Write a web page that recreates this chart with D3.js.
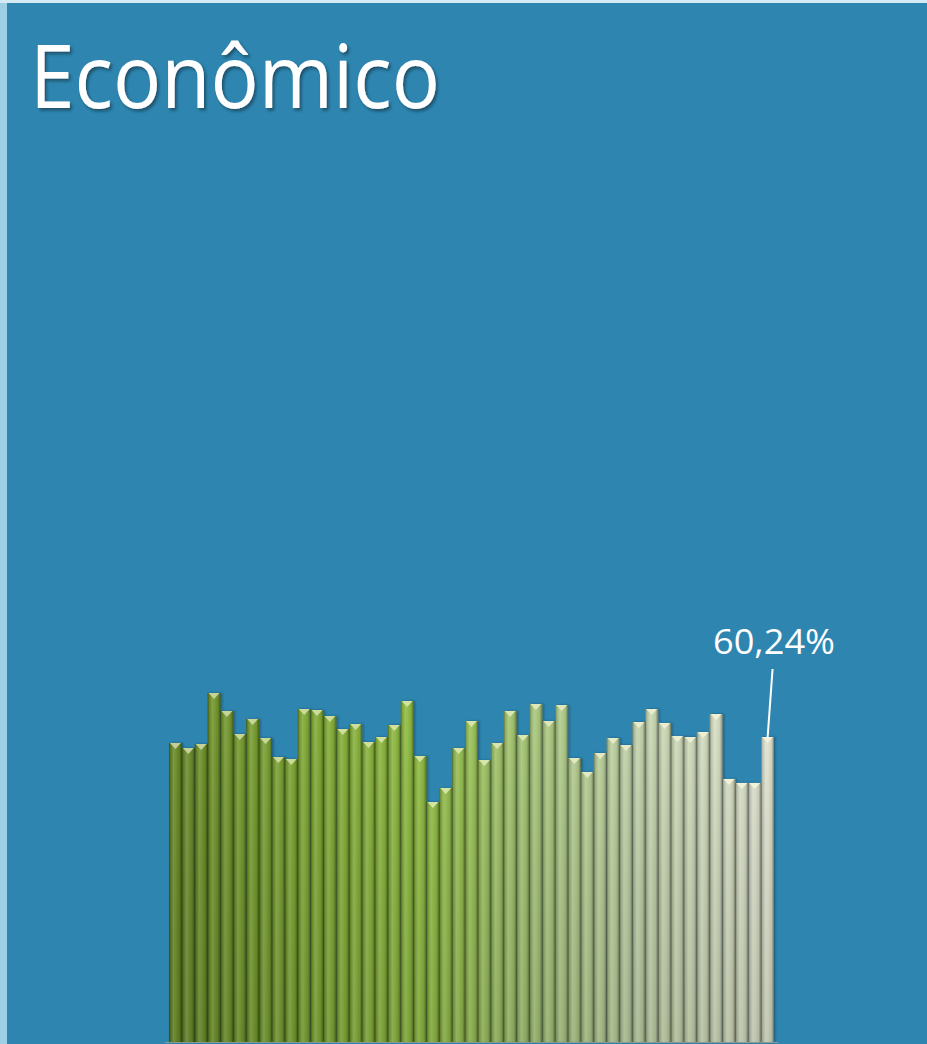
<!DOCTYPE html>
<html>
<head>
<meta charset="utf-8">
<script src="https://d3js.org/d3.v7.min.js"></script>
<style>
body { margin: 0; background: #2e86b0; }
svg { display: block; }
</style>
</head>
<body>
<svg id="chart" width="927" height="1044"></svg>
<script>

// approval values, one per bar
var values = [59.06, 58.07, 58.86, 68.93, 65.38, 60.83, 63.80, 60.04, 56.29, 55.90,
  65.77, 65.57, 64.39, 61.82, 62.81, 59.25, 60.24, 62.61, 67.35, 56.49,
  47.40, 50.17, 58.07, 63.40, 55.70, 59.06, 65.38, 60.64, 66.76, 63.40,
  66.56, 56.09, 53.33, 57.08, 60.04, 58.66, 63.20, 65.77, 63.01, 60.44,
  60.24, 61.23, 64.78, 51.95, 51.16, 51.16, 60.24];
var title = "Econômico";
var lastLabel = "60,24%";

var svg = d3.select("#chart"),
    width = +svg.attr("width"),
    height = +svg.attr("height");

var defs = svg.append("defs");

// background, with the light strips on the left and top
svg.append("rect").attr("width", width).attr("height", height).attr("fill", "#2e86b0");
svg.append("rect").attr("width", 7).attr("height", height).attr("fill", "#9fcfe5");
svg.append("rect").attr("width", width).attr("height", 3).attr("fill", "#d6eaf4");

var shadow = defs.append("filter").attr("id", "shadow")
  .attr("x", "-10%").attr("y", "-10%").attr("width", "130%").attr("height", "130%");
shadow.append("feDropShadow").attr("dx", 2).attr("dy", 2.5)
  .attr("stdDeviation", 1.5).attr("flood-color", "#0a2a3a").attr("flood-opacity", 0.6);

var barShadow = defs.append("filter").attr("id", "barShadow")
  .attr("x", "-30%").attr("y", "-5%").attr("width", "160%").attr("height", "110%");
barShadow.append("feDropShadow").attr("dx", 1.5).attr("dy", 0)
  .attr("stdDeviation", 1.2).attr("flood-color", "#0d3348").attr("flood-opacity", 0.5);

// cylinder shading across each bar
var cyl = defs.append("linearGradient").attr("id", "cyl")
  .attr("x1", 0).attr("x2", 1).attr("y1", 0).attr("y2", 0);
[[0, "#000", 0.45], [0.12, "#000", 0.12], [0.35, "#fff", 0.14], [0.55, "#fff", 0.06],
 [0.8, "#000", 0.06], [0.93, "#000", 0.28], [1, "#000", 0.5]].forEach(function(s) {
  cyl.append("stop").attr("offset", s[0]).attr("stop-color", s[1]).attr("stop-opacity", s[2]);
});

// darker toward the bottom
var fade = defs.append("linearGradient").attr("id", "fade")
  .attr("gradientUnits", "userSpaceOnUse")
  .attr("x1", 0).attr("x2", 0).attr("y1", 690).attr("y2", 1044);
fade.append("stop").attr("offset", 0).attr("stop-color", "#000").attr("stop-opacity", 0);
fade.append("stop").attr("offset", 1).attr("stop-color", "#1a2a05").attr("stop-opacity", 0.18);

var x = d3.scaleBand().domain(d3.range(values.length)).range([169, 774]).padding(0);
var y = d3.scaleLinear().domain([0, 100]).range([1042, 535.7]);

var color = d3.scaleLinear()
  .domain([0, 10, 20, 28, 36, 46])
  .range(["#6a8c28", "#80aa34", "#93c044", "#a9c87c", "#c6d6ae", "#e2e6d2"])
  .interpolate(d3.interpolateRgb);

var bars = svg.append("g");

bars.selectAll("rect.base")
  .data(values)
  .enter().append("rect")
    .attr("class", "base")
    .attr("x", function(d, i) { return x(i); })
    .attr("y", function(d) { return y(d); })
    .attr("width", x.bandwidth())
    .attr("height", function(d) { return y(0) - y(d); })
    .attr("fill", function(d, i) { return color(i); })
    .attr("filter", "url(#barShadow)");

bars.selectAll("rect.fade")
  .data(values)
  .enter().append("rect")
    .attr("class", "fade")
    .attr("x", function(d, i) { return x(i); })
    .attr("y", function(d) { return y(d); })
    .attr("width", x.bandwidth())
    .attr("height", function(d) { return y(0) - y(d); })
    .attr("fill", "url(#fade)");

bars.selectAll("rect.cyl")
  .data(values)
  .enter().append("rect")
    .attr("class", "cyl")
    .attr("x", function(d, i) { return x(i); })
    .attr("y", function(d) { return y(d); })
    .attr("width", x.bandwidth())
    .attr("height", function(d) { return y(0) - y(d); })
    .attr("fill", "url(#cyl)");

// bevelled cap on top of every bar
var bw = x.bandwidth();
bars.selectAll("path.cap")
  .data(values)
  .enter().append("path")
    .attr("class", "cap")
    .attr("d", function(d, i) {
      var x0 = x(i) + 1, x1 = x(i) + bw - 1, t = y(d);
      return "M" + x0 + "," + t + "L" + x1 + "," + t + "L" + (x0 + x1) / 2 + "," + (t + 6) + "Z";
    })
    .attr("fill", function(d, i) { return d3.interpolateRgb(color(i), "#fffbe0")(0.6); });

// axis line at the bottom
svg.append("line")
  .attr("x1", 165).attr("x2", 778)
  .attr("y1", 1042.5).attr("y2", 1042.5)
  .attr("stroke", "#8a9a90").attr("stroke-width", 1);

// title
svg.append("text")
  .attr("x", 30).attr("y", 108)
  .attr("font-family", "'Open Sans', sans-serif")
  .attr("font-size", 88)
  .attr("fill", "white")
  .attr("textLength", 410)
  .attr("lengthAdjust", "spacingAndGlyphs")
  .attr("filter", "url(#shadow)")
  .text(title);

// label on the last bar with its leader line
var li = values.length - 1;
var lx = x(li) + bw / 2;
svg.append("line")
  .attr("x1", lx + 5).attr("y1", 669)
  .attr("x2", lx).attr("y2", y(values[li]) + 1)
  .attr("stroke", "white").attr("stroke-width", 2);

svg.append("text")
  .attr("x", 774).attr("y", 654)
  .attr("text-anchor", "middle")
  .attr("font-family", "'Open Sans', sans-serif")
  .attr("font-size", 35)
  .attr("fill", "white")
  .attr("textLength", 122)
  .attr("lengthAdjust", "spacingAndGlyphs")
  .text(lastLabel);

</script>
</body>
</html>
